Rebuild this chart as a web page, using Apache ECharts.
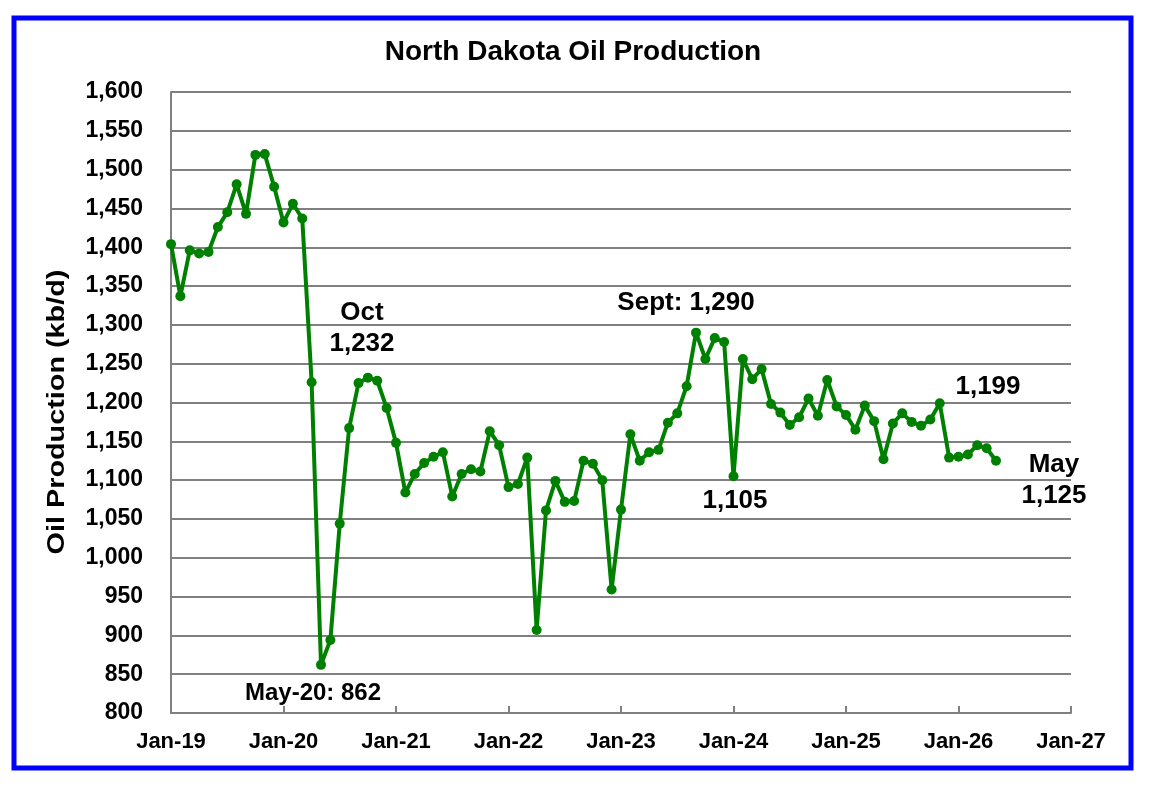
<!DOCTYPE html>
<html>
<head>
<meta charset="utf-8">
<title>North Dakota Oil Production</title>
<script src="https://cdn.jsdelivr.net/npm/echarts@6/dist/echarts.min.js"></script>
<style>
  html, body { margin: 0; padding: 0; background: #fff; }
  #chart { width: 1154px; height: 788px; }
</style>
</head>
<body>
<div id="chart"></div>
<script>
// monthly production, kb/d
var prod2019 = [1404, 1337, 1396, 1392, 1394, 1426, 1445, 1481, 1443, 1519, 1520, 1478];
var prod2020 = [1432, 1456, 1437, 1226, 862, 894, 1044, 1167, 1225, 1232, 1228, 1193];
var prod2021 = [1148, 1084, 1108, 1122, 1130, 1136, 1079, 1108, 1114, 1111, 1163, 1145];
var prod2022 = [1091, 1095, 1129, 907, 1061, 1099, 1072, 1073, 1125, 1121, 1100, 959];
var prod2023 = [1062, 1159, 1125, 1136, 1139, 1174, 1186, 1221, 1290, 1256, 1283, 1278];
var prod2024 = [1105, 1256, 1230, 1243, 1198, 1187, 1171, 1181, 1205, 1183, 1229, 1195];
var prod2025 = [1184, 1165, 1196, 1176, 1127, 1173, 1186, 1175, 1170, 1178, 1199, 1129];
var prod2026 = [1130, 1133, 1145, 1141, 1125];

var monthNames = ['Jan', 'Feb', 'Mar', 'Apr', 'May', 'Jun', 'Jul', 'Aug', 'Sep', 'Oct', 'Nov', 'Dec'];
var years = ['19', '20', '21', '22', '23', '24', '25', '26'];
var lastLabel = 'Jan-27';

var yMin = 800, yMax = 1600, yStep = 50;

var months = [];
years.forEach(function (y) {
    monthNames.forEach(function (m) { months.push(m + '-' + y); });
});
months.push(lastLabel);

var production = [].concat(prod2019, prod2020, prod2021, prod2022,
    prod2023, prod2024, prod2025, prod2026);

var font = "'Liberation Sans', Arial, sans-serif";

var myChart = echarts.init(document.getElementById('chart'));

function note(text, x, y, size) {
    return {
        type: 'text',
        x: x, y: y,
        style: {
            text: text,
            fill: '#000',
            font: 'bold ' + (size || 26) + 'px ' + font,
            align: 'center',
            verticalAlign: 'middle',
            lineHeight: 31
        },
        z: 10
    };
}

option = {
    animation: false,
    backgroundColor: '#fff',
    grid: {
        left: 171,
        right: 83,
        top: 92,
        bottom: 75
    },
    xAxis: {
        type: 'category',
        data: months,
        boundaryGap: false,
        axisLine: { lineStyle: { color: '#808080', width: 2 } },
        axisTick: {
            interval: 11,
            inside: true,
            length: 7,
            lineStyle: { color: '#808080', width: 2 }
        },
        axisLabel: {
            interval: 11,
            margin: 18,
            color: '#000',
            fontFamily: font,
            fontWeight: 'bold',
            fontSize: 22
        },
        splitLine: { show: false }
    },
    yAxis: {
        type: 'value',
        min: yMin,
        max: yMax,
        interval: yStep,
        axisLine: { show: true, lineStyle: { color: '#808080', width: 2 } },
        axisTick: { show: false },
        axisLabel: {
            margin: 28,
            color: '#000',
            fontFamily: font,
            fontWeight: 'bold',
            fontSize: 23,
            formatter: function (v) { return v.toLocaleString('en-US'); }
        },
        splitLine: { lineStyle: { color: '#808080', width: 2 } }
    },
    series: [
        {
            name: 'Oil Production',
            type: 'line',
            data: production,
            symbol: 'circle',
            symbolSize: 10,
            showAllSymbol: true,
            lineStyle: { color: '#008000', width: 4 },
            itemStyle: { color: '#008000' },
            z: 5
        }
    ],
    graphic: [
        {
            type: 'rect',
            shape: { x: 14, y: 18, width: 1117, height: 750 },
            style: { fill: 'none', stroke: '#0000ff', lineWidth: 5 },
            z: 20
        },
        {
            type: 'text',
            x: 573, y: 52,
            style: {
                text: 'North Dakota Oil Production',
                fill: '#000',
                font: 'bold 28px ' + font,
                align: 'center',
                verticalAlign: 'middle'
            }
        },
        {
            type: 'text',
            x: 57, y: 412,
            rotation: Math.PI / 2,
            scaleX: 1.2,
            style: {
                text: 'Oil Production (kb/d)',
                fill: '#000',
                font: 'bold 24px ' + font,
                align: 'center',
                verticalAlign: 'middle'
            }
        },
        note('Oct\n1,232', 362, 328),
        note('May-20: 862', 313, 693, 24),
        note('Sept: 1,290', 686, 303),
        note('1,105', 735, 501),
        note('1,199', 988, 387),
        note('May\n1,125', 1054, 480)
    ]
};

myChart.setOption(option);
</script>
</body>
</html>
